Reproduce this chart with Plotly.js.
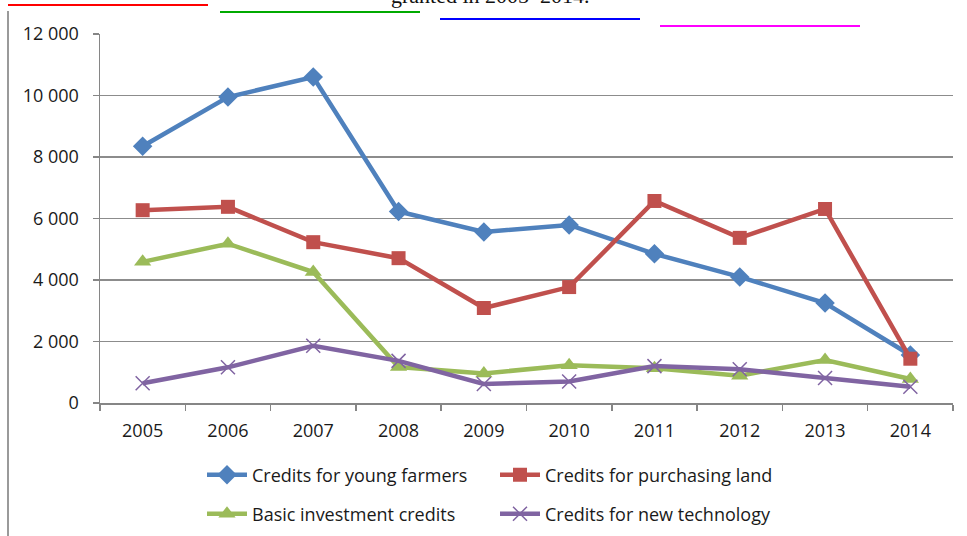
<!DOCTYPE html>
<html>
<head>
<meta charset="utf-8">
<script src="https://cdn.plot.ly/plotly-3.0.1.min.js"></script>
<style>
html,body{margin:0;padding:0;background:#fff;}
#wrap{position:relative;width:967px;height:536px;overflow:hidden;}
#chart{width:967px;height:536px;}
.t{position:absolute;height:2px;pointer-events:none;z-index:10;}
</style>
</head>
<body>
<div id="wrap"><div id="chart"></div>
<div class="t" style="left:8px;width:200px;top:4px;background:#ff0000"></div>
<div class="t" style="left:220px;width:200px;top:11px;background:#00aa00"></div>
<div class="t" style="left:440px;width:200px;top:18px;background:#0000ff"></div>
<div class="t" style="left:660px;width:200px;top:25px;background:#ff00ff"></div>
</div>
<script>
const years = ["2005","2006","2007","2008","2009","2010","2011","2012","2013","2014"];
const youngFarmers = [8350, 9950, 10600, 6230, 5560, 5790, 4850, 4100, 3250, 1560];
const purchasingLand = [6270, 6380, 5230, 4710, 3090, 3770, 6570, 5370, 6310, 1440];
const basicInvestment = [4590, 5180, 4260, 1170, 960, 1230, 1130, 890, 1400, 780];
const newTechnology = [640, 1160, 1860, 1370, 620, 700, 1200, 1100, 810, 530];
const yTickVals = [0, 2000, 4000, 6000, 8000, 10000, 12000];
const yTickText = ["0", "2 000", "4 000", "6 000", "8 000", "10 000", "12 000"];
const seriesNames = ["Credits for young farmers", "Credits for purchasing land", "Basic investment credits", "Credits for new technology"];
const titleText = "granted in 2005\u20132014.";

const colors = ["#4F81BD", "#C0504D", "#9BBB59", "#8064A2"];

const traces = [
  {x: years, y: youngFarmers, name: seriesNames[0], legend: "legend",
   mode: "lines+markers", line: {color: colors[0], width: 4.5},
   marker: {symbol: "diamond", size: 15, color: colors[0]}},
  {x: years, y: purchasingLand, name: seriesNames[1], legend: "legend",
   mode: "lines+markers", line: {color: colors[1], width: 4.5},
   marker: {symbol: "square", size: 14, color: colors[1]}},
  {x: years, y: basicInvestment, name: seriesNames[2], legend: "legend2",
   mode: "lines+markers", line: {color: colors[2], width: 4.5},
   marker: {symbol: "triangle-up", size: 15, color: colors[2]}},
  {x: years, y: newTechnology, name: seriesNames[3], legend: "legend2",
   mode: "lines+markers", line: {color: colors[3], width: 4.5},
   marker: {symbol: "x-thin-open", size: 14, color: colors[3], line: {color: colors[3], width: 1.5}}}
];

const PL = 100, PR = 953, PT = 34, PB = 403;
const px2x = p => (p - PL) / (PR - PL);
const py2y = p => (PB - p) / (PB - PT);

const legendCommon = {
  orientation: "h", xanchor: "left", yanchor: "middle",
  entrywidth: 238, entrywidthmode: "pixels", bgcolor: "rgba(0,0,0,0)",
  font: {size: 18, color: "#1a1a1a"}, itemwidth: 40, traceorder: "normal"
};

const layout = {
  width: 967, height: 536,
  margin: {l: PL, r: 967 - PR, t: PT, b: 536 - PB, pad: 0, autoexpand: false},
  paper_bgcolor: "#ffffff", plot_bgcolor: "#ffffff",
  font: {family: "Open Sans, sans-serif", size: 18, color: "#1a1a1a"},
  showlegend: true,
  xaxis: {
    type: "category", range: [-0.5, 9.5],
    showline: true, linecolor: "#868686", linewidth: 1.5,
    ticks: "outside", tickson: "boundaries", ticklen: 6, tickcolor: "#868686", tickwidth: 1.5,
    showgrid: false, zeroline: false, ticklabelstandoff: 11,
    tickfont: {size: 18, color: "#1a1a1a"}
  },
  yaxis: {
    range: [0, 12000], tickvals: yTickVals, ticktext: yTickText,
    showline: true, linecolor: "#868686", linewidth: 1.5,
    ticks: "outside", ticklen: 6, tickcolor: "#868686", tickwidth: 1.5,
    showgrid: true, gridcolor: "#8c8c8c", gridwidth: 1.3, zeroline: false,
    ticklabelstandoff: 10,
    tickfont: {size: 18, color: "#1a1a1a"}
  },
  legend: Object.assign({}, legendCommon, {x: px2x(202), y: py2y(475)}),
  legend2: Object.assign({}, legendCommon, {x: px2x(202), y: py2y(514)}),
  shapes: [
    {type: "line", xref: "paper", yref: "paper", x0: px2x(8), x1: px2x(8), y0: py2y(540), y1: py2y(11),
     line: {color: "#9a9a9a", width: 2}}
  ],
  annotations: [
    {text: titleText, xref: "paper", yref: "paper", x: px2x(490), y: 1, yanchor: "bottom", yshift: 24,
     showarrow: false, font: {family: "Liberation Serif, Times New Roman, serif", size: 22, color: "#111"}}
  ]
};

Plotly.newPlot("chart", traces, layout, {displayModeBar: false, staticPlot: true});
</script>
</body>
</html>
